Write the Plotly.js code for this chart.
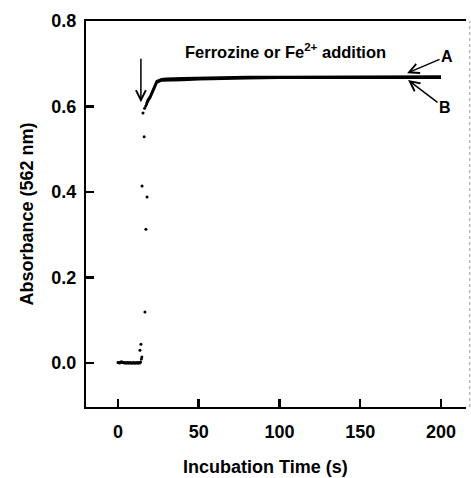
<!DOCTYPE html>
<html>
<head>
<meta charset="utf-8">
<script src="https://cdn.plot.ly/plotly-3.0.1.min.js"></script>
<style>html,body{margin:0;padding:0;background:#fff;}#chart{width:471px;height:478px;}</style>
</head>
<body>
<div id="chart"></div>
<script>
// Baseline before addition (s, absorbance)
const baseTime = [0, 0.5, 1, 1.5, 2, 2.5, 3, 3.5, 4, 4.5, 5, 5.5, 6, 6.5, 7, 7.5, 8, 8.5, 9, 9.5, 10, 10.5, 11, 11.5, 12, 12.5, 13, 13.5, 14];
const baseAbs  = [0.001, 0.001, 0.000, 0.001, 0.003, 0.002, 0.001, 0.001, 0.000, 0.001, 0.000, 0.000, 0.001, 0.000, 0.000, 0.001, 0.000, 0.000, 0.000, 0.001, 0.000, 0.000, 0.000, 0.001, 0.000, 0.000, 0.001, 0.000, 0.002];
// Rapid rise after addition (scattered points)
const riseTime = [13.6, 14.2, 14.5, 14.8, 16.7, 17.3, 14.9, 18.0, 16.2, 15.5, 16.5, 17.2];
const riseAbs  = [0.030, 0.044, 0.009, 0.014, 0.119, 0.313, 0.414, 0.388, 0.529, 0.585, 0.596, 0.601];
// Plateau traces A and B
const curveTime = [17.5, 18.6, 20, 21, 22.5, 24, 27, 30, 40, 50, 60, 80, 100, 120, 150, 180, 200];
const absA = [0.606, 0.616, 0.624, 0.632, 0.648, 0.659, 0.664, 0.665, 0.666, 0.667, 0.668, 0.669, 0.669, 0.669, 0.669, 0.670, 0.670];
const absB = [0.603, 0.613, 0.621, 0.629, 0.645, 0.656, 0.661, 0.661, 0.662, 0.664, 0.665, 0.666, 0.667, 0.667, 0.667, 0.667, 0.667];

const xTicks = [0, 50, 100, 150, 200];
const yTicks = [0.0, 0.2, 0.4, 0.6, 0.8];

const font = 'Liberation Sans, Arial, sans-serif';

const traces = [
  {x: baseTime, y: baseAbs, mode: 'markers', marker: {color: '#000', size: 3}, name: 'baseline'},
  {x: riseTime, y: riseAbs, mode: 'markers', marker: {color: '#000', size: 3}, name: 'rise'},
  {x: curveTime, y: absA, mode: 'lines', line: {color: '#000', width: 2.5}, name: 'A'},
  {x: curveTime, y: absB, mode: 'lines', line: {color: '#000', width: 2.5}, name: 'B'}
];

const layout = {
  width: 471, height: 478,
  margin: {l: 86, r: 5, t: 21, b: 71},
  paper_bgcolor: '#fff', plot_bgcolor: '#fff',
  showlegend: false,
  font: {family: font, color: '#000'},
  xaxis: {
    range: [-19.8, 215.5], tickvals: xTicks, ticktext: xTicks.map(String),
    ticks: 'inside', ticklen: 8, tickwidth: 2.5, tickcolor: '#000',
    showline: true, linecolor: '#000', linewidth: 2, mirror: true,
    showgrid: false, zeroline: false,
    tickfont: {family: font, size: 18, color: '#000', weight: 'bold'},
    ticklabelstandoff: 7
  },
  yaxis: {
    range: [-0.103, 0.8], tickvals: yTicks, ticktext: yTicks.map(v => v.toFixed(1)),
    ticks: 'inside', ticklen: 8, tickwidth: 2.5, tickcolor: '#000',
    showline: true, linecolor: '#000', linewidth: 2, mirror: false,
    showgrid: false, zeroline: false,
    tickfont: {family: font, size: 18, color: '#000', weight: 'bold'},
    ticklabelstandoff: 4,
    title: {text: 'Absorbance (562 nm)', font: {family: font, size: 18, color: '#000', weight: 'bold'}, standoff: 13}
  },
  shapes: [
    {type: 'line', xref: 'paper', yref: 'paper', x0: 1.01, x1: 1.01, y0: 0, y1: 1, line: {color: '#999', width: 1, dash: 'dot'}}
  ],
  annotations: [
    {xref: 'paper', yref: 'paper', x: (265 - 86) / 380, y: -0.155, yanchor: 'middle', xanchor: 'center', showarrow: false,
     text: 'Incubation Time (s)', font: {family: font, size: 18, color: '#000', weight: 'bold'}},
    {x: 104, y: 0.730, showarrow: false, text: 'Ferrozine or Fe<sup>2+</sup> addition',
     font: {family: font, size: 16.5, color: '#000', weight: 'bold'}},
    {x: 14.2, y: 0.61, ax: 0, ay: -45, text: '', showarrow: true, arrowhead: 5, arrowsize: 1.3, arrowwidth: 1.5, arrowcolor: '#000'},
    {x: 179, y: 0.678, ax: 40, ay: -17, text: 'A', showarrow: true, arrowhead: 5, arrowsize: 1.3, arrowwidth: 1.5, arrowcolor: '#000',
     font: {family: font, size: 16, color: '#000', weight: 'bold'}},
    {x: 179.6, y: 0.662, ax: 37, ay: 28, text: 'B', showarrow: true, arrowhead: 5, arrowsize: 1.3, arrowwidth: 1.5, arrowcolor: '#000',
     font: {family: font, size: 16, color: '#000', weight: 'bold'}}
  ]
};

Plotly.newPlot('chart', traces, layout, {displayModeBar: false, staticPlot: true});
</script>
</body>
</html>
